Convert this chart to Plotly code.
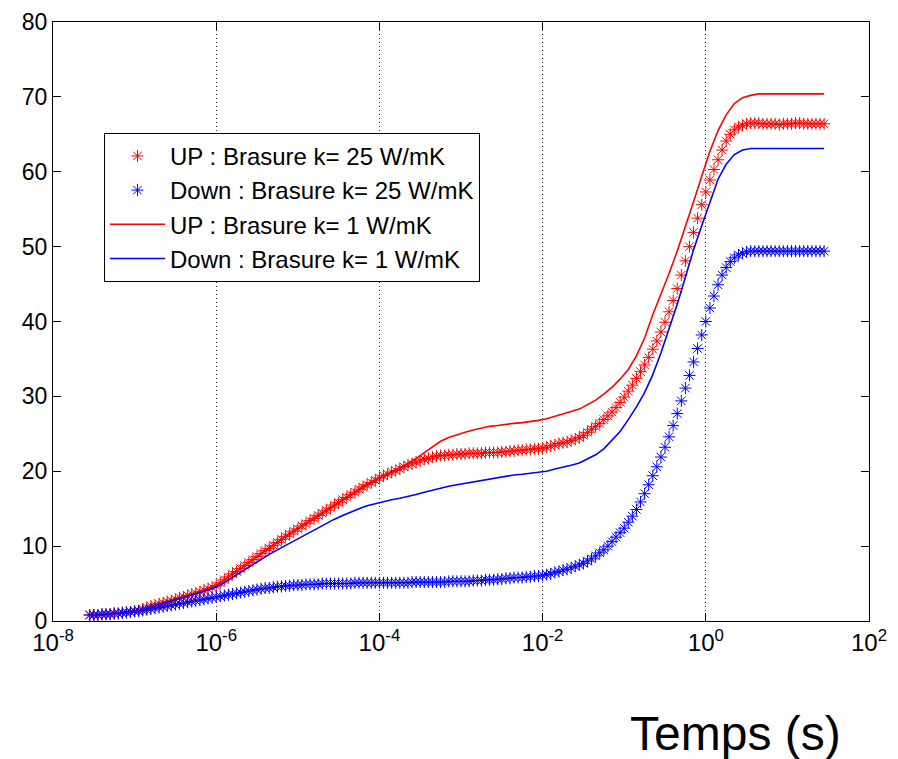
import plotly.graph_objects as go

# sampling times (log10 of seconds)
t_marker_exp = [
    -7.55, -7.50, -7.45, -7.40, -7.35, -7.30, -7.25, -7.20, -7.15, -7.10, -7.05, -7.00,
    -6.95, -6.90, -6.85, -6.80, -6.75, -6.70, -6.65, -6.60, -6.55, -6.50,
    -6.45, -6.40, -6.35, -6.30, -6.25, -6.20, -6.15, -6.10, -6.05, -6.00,
    -5.95, -5.90, -5.85, -5.80, -5.75, -5.70, -5.65, -5.60, -5.55, -5.50,
    -5.45, -5.40, -5.35, -5.30, -5.25, -5.20, -5.15, -5.10, -5.05, -5.00,
    -4.95, -4.90, -4.85, -4.80, -4.75, -4.70, -4.65, -4.60, -4.55, -4.50,
    -4.45, -4.40, -4.35, -4.30, -4.25, -4.20, -4.15, -4.10, -4.05, -4.00,
    -3.95, -3.90, -3.85, -3.80, -3.75, -3.70, -3.65, -3.60, -3.55, -3.50,
    -3.45, -3.40, -3.35, -3.30, -3.25, -3.20, -3.15, -3.10, -3.05, -3.00,
    -2.95, -2.90, -2.85, -2.80, -2.75, -2.70, -2.65, -2.60, -2.55, -2.50,
    -2.45, -2.40, -2.35, -2.30, -2.25, -2.20, -2.15, -2.10, -2.05, -2.00,
    -1.95, -1.90, -1.85, -1.80, -1.75, -1.70, -1.65, -1.60, -1.55, -1.50,
    -1.45, -1.40, -1.35, -1.30, -1.25, -1.20, -1.15, -1.10, -1.05, -1.00,
    -0.95, -0.90, -0.85, -0.80, -0.75, -0.70, -0.65, -0.60, -0.55, -0.50,
    -0.45, -0.40, -0.35, -0.30, -0.25, -0.20, -0.15, -0.10, -0.05, 0.00,
    0.05, 0.10, 0.15, 0.20, 0.25, 0.30, 0.35, 0.40, 0.45, 0.50,
    0.55, 0.60, 0.65, 0.70, 0.75, 0.80, 0.85, 0.90, 0.95, 1.00,
    1.05, 1.10, 1.15, 1.20, 1.25, 1.30, 1.35, 1.40, 1.45,
]

t_line_exp = [
    -7.55, -7.45, -7.35, -7.25, -7.15, -7.05, -6.95, -6.85, -6.75, -6.65,
    -6.55, -6.45, -6.35, -6.25, -6.15, -6.05, -5.95, -5.85, -5.75, -5.65,
    -5.55, -5.45, -5.35, -5.25, -5.15, -5.05, -4.95, -4.85, -4.75, -4.65,
    -4.55, -4.45, -4.35, -4.25, -4.15, -4.05, -3.95, -3.85, -3.75, -3.65,
    -3.55, -3.45, -3.35, -3.25, -3.15, -3.05, -2.95, -2.85, -2.75, -2.65,
    -2.55, -2.45, -2.35, -2.25, -2.15, -2.05, -1.95, -1.85, -1.75, -1.65,
    -1.55, -1.45, -1.35, -1.25, -1.15, -1.05, -0.95, -0.85, -0.75, -0.65,
    -0.55, -0.45, -0.35, -0.25, -0.15, -0.05, 0.05, 0.15, 0.25, 0.35,
    0.45, 0.55, 0.65, 0.75, 0.85, 0.95, 1.05, 1.15, 1.25, 1.35,
    1.45,
]

# UP : Brasure k = 25 W/mK (markers)
up_k25 = [
    0.8, 0.8, 0.8, 0.9, 0.9, 0.9, 1.0, 1.0, 1.1, 1.2, 1.2, 1.3,
    1.4, 1.6, 1.8, 2.0, 2.1, 2.3, 2.4, 2.6, 2.7, 2.9, 3.1, 3.2, 3.4, 3.6, 3.7, 3.9, 4.1, 4.3, 4.5, 4.7,
    5.1, 5.5, 5.9, 6.3, 6.6, 7.0, 7.4, 7.8, 8.2, 8.6, 9.0, 9.4, 9.7, 10.1, 10.5, 10.9, 11.3, 11.6, 12.0, 12.3,
    12.7, 13.0, 13.4, 13.7, 14.1, 14.4, 14.8, 15.1, 15.5, 15.8, 16.2, 16.5, 16.9, 17.2, 17.6, 17.9, 18.2, 18.5, 18.8, 19.1,
    19.4, 19.6, 19.9, 20.1, 20.3, 20.6, 20.8, 21.0, 21.2, 21.4, 21.6, 21.7, 21.9, 22.0, 22.1, 22.1, 22.2, 22.2, 22.3, 22.3,
    22.3, 22.4, 22.4, 22.4, 22.4, 22.5, 22.5, 22.5, 22.5, 22.6, 22.6, 22.7, 22.7, 22.8, 22.8, 22.9, 22.9, 23.0, 23.0, 23.1,
    23.2, 23.4, 23.5, 23.7, 23.8, 23.9, 24.1, 24.3, 24.5, 24.8, 25.2, 25.6, 26.0, 26.4, 26.9, 27.4, 27.9, 28.5, 29.2, 29.9,
    30.7, 31.5, 32.4, 33.3, 34.2, 35.2, 36.3, 37.4, 38.6, 39.9, 41.3, 42.8, 44.4, 46.2, 48.1, 50.0, 51.9, 53.8, 55.6, 57.3,
    58.9, 60.3, 61.6, 62.9, 64.1, 65.0, 65.6, 66.0, 66.2, 66.4, 66.5, 66.5, 66.5, 66.4, 66.4, 66.4, 66.4, 66.3, 66.4, 66.4,
    66.4, 66.5, 66.5, 66.4, 66.4, 66.4, 66.4, 66.4, 66.4,
]

# Down : Brasure k = 25 W/mK (markers)
down_k25 = [
    0.8, 0.8, 0.8, 0.9, 0.9, 0.9, 1.0, 1.0, 1.1, 1.1, 1.2, 1.3,
    1.3, 1.4, 1.5, 1.6, 1.7, 1.8, 1.9, 2.0, 2.1, 2.2, 2.3, 2.4, 2.5, 2.6, 2.7, 2.8, 2.9, 3.0, 3.1, 3.2,
    3.3, 3.4, 3.5, 3.6, 3.7, 3.8, 3.9, 4.0, 4.1, 4.2, 4.3, 4.4, 4.4, 4.5, 4.6, 4.6, 4.7, 4.7, 4.8, 4.8,
    4.8, 4.9, 4.9, 4.9, 4.9, 5.0, 5.0, 5.0, 5.0, 5.0, 5.0, 5.0, 5.0, 5.1, 5.1, 5.1, 5.1, 5.1, 5.1, 5.1,
    5.1, 5.1, 5.1, 5.1, 5.1, 5.1, 5.1, 5.2, 5.2, 5.2, 5.2, 5.2, 5.2, 5.2, 5.2, 5.2, 5.3, 5.3, 5.3, 5.3,
    5.3, 5.3, 5.4, 5.4, 5.4, 5.5, 5.5, 5.5, 5.6, 5.6, 5.7, 5.7, 5.8, 5.8, 5.8, 5.9, 5.9, 6.0, 6.0, 6.1,
    6.2, 6.3, 6.5, 6.6, 6.8, 6.9, 7.1, 7.3, 7.5, 7.7, 8.0, 8.3, 8.7, 9.1, 9.5, 10.0, 10.6, 11.2, 11.8, 12.4,
    13.2, 14.0, 14.9, 15.9, 17.0, 18.2, 19.4, 20.6, 21.9, 23.2, 24.6, 26.1, 27.7, 29.4, 31.1, 32.8, 34.6, 36.4, 38.2, 40.0,
    41.8, 43.4, 44.9, 46.2, 47.2, 48.0, 48.5, 48.9, 49.1, 49.3, 49.4, 49.4, 49.4, 49.4, 49.4, 49.4, 49.4, 49.4, 49.4, 49.4,
    49.4, 49.4, 49.4, 49.4, 49.4, 49.4, 49.4, 49.4, 49.4,
]

# UP : Brasure k = 1 W/mK (line)
up_k1 = [
    0.8, 0.8, 0.9, 1.0, 1.1, 1.2, 1.4, 1.8, 2.1, 2.4,
    2.7, 3.1, 3.4, 3.7, 4.1, 4.5, 5.1, 5.9, 6.6, 7.4,
    8.2, 9.0, 9.7, 10.5, 11.3, 12.0, 12.7, 13.4, 14.1, 14.8,
    15.5, 16.2, 16.9, 17.6, 18.2, 18.8, 19.4, 19.9, 20.4, 21.0,
    21.7, 22.5, 23.3, 24.0, 24.5, 24.9, 25.2, 25.5, 25.8, 26.0,
    26.1, 26.3, 26.4, 26.5, 26.6, 26.8, 27.0, 27.3, 27.6, 27.9,
    28.3, 28.9, 29.5, 30.3, 31.2, 32.3, 33.6, 35.4, 37.8, 40.9,
    43.6, 46.4, 49.4, 52.6, 56.0, 59.4, 62.7, 65.5, 67.6, 69.1,
    69.9, 70.2, 70.4, 70.4, 70.4, 70.4, 70.4, 70.4, 70.4, 70.4,
    70.4,
]

# Down : Brasure k = 1 W/mK (line)
down_k1 = [
    0.8, 0.8, 0.9, 1.0, 1.1, 1.2, 1.4, 1.7, 2.0, 2.3,
    2.6, 3.0, 3.3, 3.6, 3.9, 4.3, 4.8, 5.5, 6.2, 6.9,
    7.6, 8.2, 8.9, 9.5, 10.1, 10.7, 11.3, 11.9, 12.5, 13.1,
    13.6, 14.1, 14.6, 15.0, 15.4, 15.7, 16.0, 16.2, 16.4, 16.6,
    16.9, 17.2, 17.5, 17.7, 18.0, 18.2, 18.4, 18.6, 18.8, 19.0,
    19.2, 19.4, 19.5, 19.6, 19.7, 19.8, 20.0, 20.3, 20.5, 20.8,
    21.1, 21.6, 22.2, 23.0, 24.1, 25.3, 26.9, 28.6, 30.5, 32.9,
    35.8, 38.9, 42.3, 45.9, 49.6, 52.8, 55.8, 59.0, 61.0, 62.3,
    62.9, 63.1, 63.1, 63.1, 63.1, 63.1, 63.1, 63.1, 63.1, 63.1,
    63.1,
]

series_names = [
    "UP : Brasure k= 25 W/mK",
    "Down : Brasure k= 25 W/mK",
    "UP : Brasure k= 1 W/mK",
    "Down : Brasure k= 1 W/mK",
]

x_tick_exp = [-8, -6, -4, -2, 0, 2]
x_tick_text = ["10<sup>-8</sup>", "10<sup>-6</sup>", "10<sup>-4</sup>",
               "10<sup>-2</sup>", "10<sup>0</sup>", "10<sup>2</sup>"]
y_ticks = [0, 10, 20, 30, 40, 50, 60, 70, 80]

t_marker = [10 ** e for e in t_marker_exp]
t_line = [10 ** e for e in t_line_exp]
x_tick_vals = [10 ** e for e in x_tick_exp]

FONT = "Liberation Sans, Arial, Helvetica, sans-serif"

fig = go.Figure()
fig.add_trace(go.Scatter(
    x=t_marker, y=up_k25, mode="markers", name=series_names[0],
    marker=dict(symbol="asterisk-open", size=10, color="#ff0000",
                line=dict(width=1, color="#ff0000")),
))
fig.add_trace(go.Scatter(
    x=t_marker, y=down_k25, mode="markers", name=series_names[1],
    marker=dict(symbol="asterisk-open", size=10, color="#0000ff",
                line=dict(width=1, color="#0000ff")),
))
fig.add_trace(go.Scatter(
    x=t_line, y=up_k1, mode="lines", name=series_names[2],
    line=dict(color="#ff0000", width=1.6),
))
fig.add_trace(go.Scatter(
    x=t_line, y=down_k1, mode="lines", name=series_names[3],
    line=dict(color="#0000ff", width=1.6),
))

# The page body has an 8 px margin, so the figure is offset by 8 px.
fig.update_layout(
    width=890, height=751,
    margin=dict(l=45, r=29, t=14, b=138),
    paper_bgcolor="white", plot_bgcolor="white",
    font=dict(family=FONT, color="black", size=23),
    showlegend=True,
    legend=dict(
        x=0.0625, y=0.815, xanchor="left", yanchor="top",
        bgcolor="white", bordercolor="black", borderwidth=1,
        font=dict(family=FONT, size=24, color="black"),
        itemwidth=55, tracegroupgap=0,
    ),
    xaxis=dict(
        type="log", range=[-8, 2], automargin=False,
        tickmode="array", tickvals=x_tick_vals, ticktext=x_tick_text,
        ticks="inside", ticklen=8, tickcolor="black",
        showline=True, linecolor="black", linewidth=1, mirror="ticks",
        showgrid=True, gridcolor="rgba(0,0,0,0.8)", griddash="1px,3px", gridwidth=1,
        zeroline=False, tickfont=dict(family=FONT, size=24, color="black"),
    ),
    yaxis=dict(
        range=[0, 80], tickmode="array", tickvals=y_ticks, automargin=False,
        ticks="inside", ticklen=8, tickcolor="black",
        showline=True, linecolor="black", linewidth=1, mirror="ticks",
        showgrid=False, zeroline=False,
        tickfont=dict(family=FONT, size=23, color="black"),
    ),
    annotations=[dict(
        text="Temps (s)", xref="paper", yref="paper",
        x=0.836, y=-0.1886, xanchor="center", yanchor="middle",
        showarrow=False, font=dict(family=FONT, size=48, color="black"),
    )],
)

fig.write_html("out.html")
